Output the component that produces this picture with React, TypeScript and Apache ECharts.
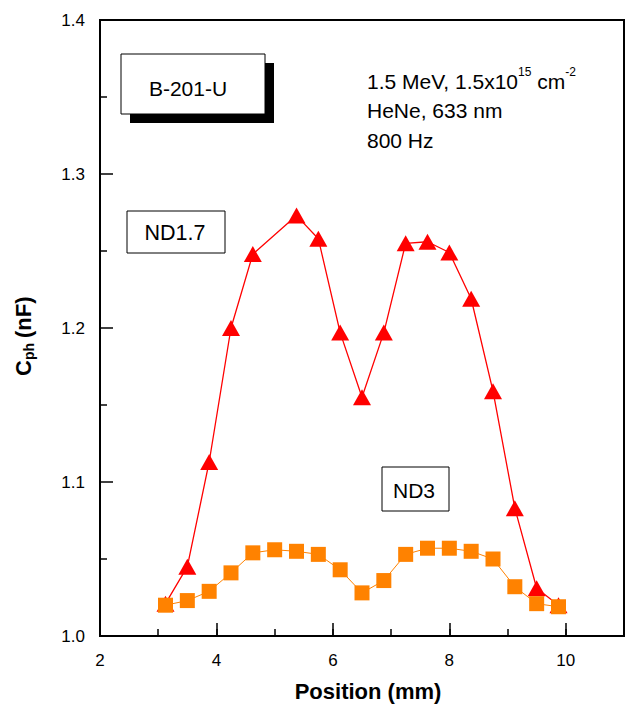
import React, { useEffect, useRef } from "react";
import * as echarts from "echarts";

const X_TICK_LABELS = [2, 4, 6, 8, 10];
const Y_TICK_LABELS = [1.0, 1.1, 1.2, 1.3, 1.4];

const ND17_X = [3.125, 3.5, 3.875, 4.25, 4.625, 5.375, 5.75, 6.125, 6.5, 6.875, 7.25, 7.625, 8.0, 8.375, 8.75, 9.125, 9.5, 9.875];
const ND17_Y = [1.021, 1.045, 1.113, 1.2, 1.248, 1.273, 1.258, 1.197, 1.155, 1.197, 1.255, 1.256, 1.249, 1.219, 1.159, 1.083, 1.031, 1.02];

const ND3_X = [3.125, 3.5, 3.875, 4.25, 4.625, 5.0, 5.375, 5.75, 6.125, 6.5, 6.875, 7.25, 7.625, 8.0, 8.375, 8.75, 9.125, 9.5, 9.875];
const ND3_Y = [1.02, 1.023, 1.029, 1.041, 1.054, 1.056, 1.055, 1.053, 1.043, 1.028, 1.036, 1.053, 1.057, 1.057, 1.055, 1.05, 1.032, 1.021, 1.019];

const FONT = "'Liberation Sans', Arial, Helvetica, sans-serif";

export default function App() {
  const ref = useRef<HTMLDivElement>(null);

  useEffect(() => {
    if (!ref.current) return;
    const chart = echarts.init(ref.current, null, { renderer: "svg" });

    const nd17 = ND17_X.map((x, i) => [x, ND17_Y[i]]);
    const nd3 = ND3_X.map((x, i) => [x, ND3_Y[i]]);

    const option: any = {
      animation: false,
      backgroundColor: "#ffffff",
      grid: {
        left: 100,
        top: 20,
        width: 528,
        height: 616,
        show: true,
        borderColor: "#000",
        borderWidth: 2,
        backgroundColor: "transparent",
      },
      xAxis: [
        {
          type: "value",
          position: "bottom",
          min: 2,
          max: 11,
          interval: 2,
          axisLine: { show: true, lineStyle: { color: "#000", width: 2 } },
          axisTick: { show: true, inside: true, length: 13, lineStyle: { color: "#000", width: 1.5 } },
          axisLabel: {
            fontSize: 17,
            color: "#000",
            fontFamily: FONT,
            margin: 16,
            formatter: (v: number) => (X_TICK_LABELS.indexOf(v) >= 0 ? String(v) : ""),
          },
          splitLine: { show: false },
        },
        {
          type: "value",
          position: "bottom",
          min: 2,
          max: 11,
          interval: 1,
          axisLine: { show: false },
          axisTick: { show: true, inside: true, length: 7, lineStyle: { color: "#000", width: 1.5 } },
          axisLabel: { show: false },
          splitLine: { show: false },
        },
      ],
      yAxis: {
        type: "value",
        min: 1.0,
        max: 1.4,
        interval: 0.1,
        axisLine: { show: true, lineStyle: { color: "#000", width: 2 } },
        axisTick: { show: true, inside: true, length: 13, lineStyle: { color: "#000", width: 1.5 } },
        minorTick: { show: true, splitNumber: 2, length: 7, lineStyle: { color: "#000", width: 1.5 } },
        axisLabel: {
          fontSize: 17,
          color: "#000",
          fontFamily: FONT,
          margin: 15,
          formatter: (v: number) => {
            const match = Y_TICK_LABELS.find((t) => Math.abs(t - v) < 1e-9);
            return match !== undefined ? match.toFixed(1) : "";
          },
        },
        splitLine: { show: false },
      },
      series: [
        {
          name: "ND1.7",
          type: "line",
          xAxisIndex: 0,
          data: nd17,
          symbol: "triangle",
          symbolSize: [18, 16],
          itemStyle: { color: "#ff0000" },
          lineStyle: { color: "#ff0000", width: 1.3 },
          z: 2,
        },
        {
          name: "ND3",
          type: "line",
          xAxisIndex: 0,
          data: nd3,
          symbol: "rect",
          symbolSize: 15,
          itemStyle: { color: "#ff8200" },
          lineStyle: { color: "#ff8200", width: 1 },
          z: 3,
        },
      ],
      graphic: [
        // B-201-U box with shadow
        { type: "rect", shape: { x: 130, y: 63, width: 144, height: 60 }, style: { fill: "#000" }, z: 10 },
        { type: "rect", shape: { x: 121, y: 54, width: 144, height: 60 }, style: { fill: "#fff", stroke: "#000", lineWidth: 1 }, z: 11 },
        {
          type: "text", x: 188, y: 88, z: 12,
          style: { text: "B-201-U", fontSize: 21, fontFamily: FONT, fill: "#000", align: "center", verticalAlign: "middle" },
        },
        // ND1.7 box
        { type: "rect", shape: { x: 127, y: 211, width: 98, height: 42 }, style: { fill: "#fff", stroke: "#000", lineWidth: 1 }, z: 11 },
        {
          type: "text", x: 175, y: 233, z: 12,
          style: { text: "ND1.7", fontSize: 21.5, fontFamily: FONT, fill: "#000", align: "center", verticalAlign: "middle" },
        },
        // ND3 box
        { type: "rect", shape: { x: 382, y: 467, width: 67, height: 44 }, style: { fill: "#fff", stroke: "#000", lineWidth: 1 }, z: 11 },
        {
          type: "text", x: 414, y: 490, z: 12,
          style: { text: "ND3", fontSize: 21, fontFamily: FONT, fill: "#000", align: "center", verticalAlign: "middle" },
        },
        // conditions text
        {
          type: "text", x: 367, y: 79, z: 12,
          style: {
            text: "{a|1.5 MeV, 1.5x10}{s|15}{a| cm}{s|-2}",
            align: "left",
            verticalAlign: "middle",
            rich: {
              a: { fontSize: 21, fontFamily: FONT, fill: "#000", lineHeight: 26, verticalAlign: "bottom" },
              s: { fontSize: 12, fontFamily: FONT, fill: "#000", lineHeight: 13, verticalAlign: "top" },
            },
          },
        },
        {
          type: "text", x: 367, y: 110, z: 12,
          style: { text: "HeNe, 633 nm", fontSize: 21, fontFamily: FONT, fill: "#000", align: "left", verticalAlign: "middle" },
        },
        {
          type: "text", x: 367, y: 140, z: 12,
          style: { text: "800 Hz", fontSize: 21, fontFamily: FONT, fill: "#000", align: "left", verticalAlign: "middle" },
        },
        // x axis title
        {
          type: "text", x: 368, y: 691, z: 12,
          style: { text: "Position (mm)", fontSize: 22, fontWeight: "bold", fontFamily: FONT, fill: "#000", align: "center", verticalAlign: "middle" },
        },
        // y axis title (rotated)
        {
          type: "group", x: 23, y: 376, rotation: Math.PI / 2, z: 12,
          children: [
            { type: "text", x: 0, y: 0, style: { text: "C", fontSize: 22, fontWeight: "bold", fontFamily: FONT, fill: "#000", align: "left", verticalAlign: "middle" } },
            { type: "text", x: 16, y: 6, style: { text: "ph", fontSize: 14, fontWeight: "bold", fontFamily: FONT, fill: "#000", align: "left", verticalAlign: "middle" } },
            { type: "text", x: 38, y: 0, style: { text: "(nF)", fontSize: 22, fontWeight: "bold", fontFamily: FONT, fill: "#000", align: "left", verticalAlign: "middle" } },
          ],
        },
      ],
    };

    chart.setOption(option);
    return () => chart.dispose();
  }, []);

  return (
    <div
      ref={ref}
      style={{ position: "absolute", left: 0, top: 0, width: 627, height: 707, background: "#fff" }}
    />
  );
}
